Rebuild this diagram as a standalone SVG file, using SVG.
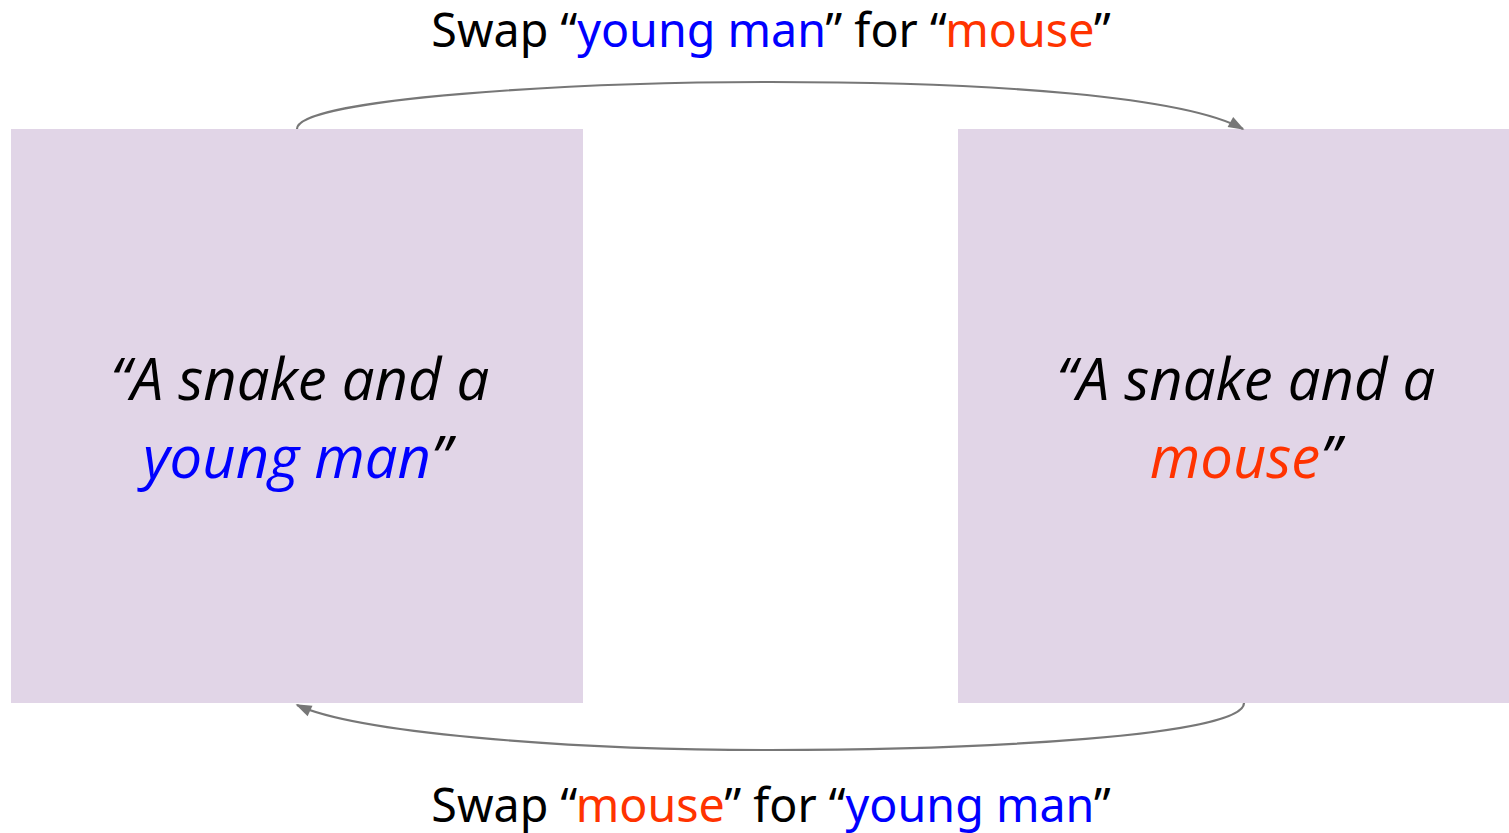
<svg xmlns="http://www.w3.org/2000/svg" width="1509" height="833" viewBox="0 0 1509 833">
  <style>
    .box { fill: #E1D5E7; }
    .label { font-family: "Noto Sans", "Open Sans", sans-serif; font-size: 46.6px; fill: #000; }
    .quote { font-family: "Open Sans", "Noto Sans", sans-serif; font-style: italic; font-size: 58px; fill: #000; }
    .blue { fill: #0000FF; }
    .red { fill: #FF3300; }
    .edge { fill: none; stroke: #777777; stroke-width: 2.2; }
  </style>
  <defs>
    <marker id="arrow" viewBox="0 0 10 10" refX="9" refY="5" markerWidth="16" markerHeight="16" markerUnits="userSpaceOnUse" orient="auto" overflow="visible">
      <path d="M0,1.4 L10,5 L0,8.6 Z" fill="#777777"/>
    </marker>
  </defs>
  <rect width="1509" height="833" fill="#FFFFFF"/>

  <g id="node-left">
    <rect class="box" x="11" y="129" width="572" height="574"/>
    <text class="quote" x="300" y="400" text-anchor="middle">“A snake and a</text>
    <text class="quote" x="297" y="478" text-anchor="middle"><tspan class="blue">young man</tspan>”</text>
  </g>

  <g id="node-right">
    <rect class="box" x="958" y="129" width="551" height="574"/>
    <text class="quote" x="1246" y="400" text-anchor="middle">“A snake and a</text>
    <text class="quote" x="1245" y="478" text-anchor="middle"><tspan class="red">mouse</tspan>”</text>
  </g>

  <g id="connectors">
    <path class="edge" d="M297,129 C297,98 580,82 770,82 C1000,82 1185,97 1243,129" marker-end="url(#arrow)"/>
    <path class="edge" d="M1244,703 C1244,736 980,750 770,750 C560,750 355,732 297,705" marker-end="url(#arrow)"/>
  </g>

  <g id="label-top">
    <text class="label" x="771" y="47" text-anchor="middle">Swap “<tspan class="blue">young man</tspan>” for “<tspan class="red">mouse</tspan>”</text>
  </g>
  <g id="label-bottom">
    <text class="label" x="771" y="822" text-anchor="middle">Swap “<tspan class="red">mouse</tspan>” for “<tspan class="blue">young man</tspan>”</text>
  </g>
</svg>
